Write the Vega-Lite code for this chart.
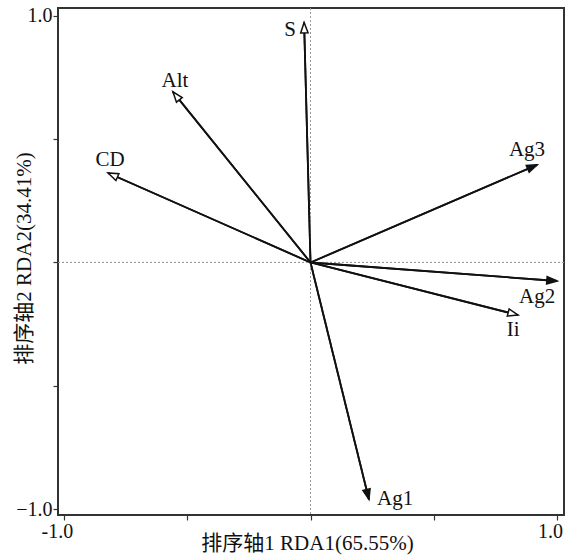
{
  "$schema": "https://vega.github.io/schema/vega-lite/v6.json",
  "width": 506,
  "height": 507,
  "autosize": "none",
  "padding": {"left": 58, "top": 8, "right": 2, "bottom": 42},
  "background": "white",
  "config": {
    "view": {"stroke": "#333333", "strokeWidth": 2},
    "font": "Liberation Serif, Noto Sans CJK SC",
    "axis": {
      "grid": false,
      "domain": false,
      "tickColor": "#333333",
      "tickSize": 5,
      "tickWidth": 1.2,
      "labelFont": "Liberation Serif",
      "labelFontSize": 20,
      "labelColor": "#111111",
      "titleFont": "Liberation Serif, Noto Sans CJK SC",
      "titleFontSize": 21,
      "titleFontWeight": "normal",
      "titleColor": "#111111"
    }
  },
  "data": {
    "values": [
      {"name": "S", "x": -0.026, "y": 0.973, "lx": -0.083, "ly": 0.943, "kind": "env"},
      {"name": "Alt", "x": -0.558, "y": 0.692, "lx": -0.55, "ly": 0.736, "kind": "env"},
      {"name": "CD", "x": -0.821, "y": 0.363, "lx": -0.813, "ly": 0.416, "kind": "env"},
      {"name": "Ii", "x": 0.842, "y": -0.213, "lx": 0.822, "ly": -0.274, "kind": "env"},
      {"name": "Ag3", "x": 0.919, "y": 0.396, "lx": 0.878, "ly": 0.456, "kind": "resp"},
      {"name": "Ag2", "x": 1.0, "y": -0.075, "lx": 0.919, "ly": -0.14, "kind": "resp"},
      {"name": "Ag1", "x": 0.237, "y": -0.961, "lx": 0.343, "ly": -0.959, "kind": "resp"}
    ]
  },
  "layer": [
    {
      "mark": {"type": "rule", "color": "#111111", "strokeWidth": 1.8},
      "encoding": {
        "x": {
          "field": "x",
          "type": "quantitative",
          "scale": {"domain": [-1.024, 1.028], "nice": false, "zero": false},
          "axis": {
            "values": [-1, -0.5, 0, 0.5, 1],
            "labelExpr": "abs(datum.value) == 1 ? (datum.value < 0 ? '-1.0' : '1.0') : ''",
            "labelPadding": 1,
            "labelOffset": -7,
            "labelFlush": false,
            "labelOverlap": false,
            "labelBound": false,
            "title": "排序轴1 RDA1(65.55%)",
            "titleX": 249,
            "titleY": 28,
            "titleAnchor": "middle",
            "titleAlign": "center",
            "titleBaseline": "middle"
          }
        },
        "y": {
          "field": "y",
          "type": "quantitative",
          "scale": {"domain": [-1.024, 1.032], "nice": false, "zero": false},
          "axis": {
            "values": [-1, -0.5, 0, 0.5, 1],
            "labelExpr": "abs(datum.value) == 1 ? (datum.value < 0 ? '−1.0' : '1.0') : ''",
            "labelPadding": 1,
            "labelFlush": false,
            "title": "排序轴2 RDA2(34.41%)",
            "titleX": -34,
            "titleY": 250,
            "titleAngle": -90,
            "titleAlign": "center",
            "titleBaseline": "middle"
          }
        },
        "x2": {"datum": 0},
        "y2": {"datum": 0}
      }
    },
    {
      "mark": {"type": "rule", "color": "#999999", "strokeWidth": 0.8, "strokeDash": [2, 2]},
      "encoding": {"x": {"datum": 0, "type": "quantitative"}}
    },
    {
      "mark": {"type": "rule", "color": "#999999", "strokeWidth": 0.8, "strokeDash": [2, 2]},
      "encoding": {"y": {"datum": 0, "type": "quantitative"}}
    },
    {
      "mark": {"type": "rule", "color": "#111111", "strokeWidth": 1.8},
      "encoding": {
        "x": {"field": "x", "type": "quantitative"},
        "y": {"field": "y", "type": "quantitative"},
        "x2": {"datum": 0},
        "y2": {"datum": 0}
      }
    },
    {
      "mark": {
        "type": "point",
        "shape": "M0,0L-0.36,1L0.36,1Z",
        "size": 420,
        "filled": true,
        "opacity": 1,
        "stroke": "#111111",
        "strokeWidth": 1.5,
        "angle": {"expr": "atan2(datum.x, datum.y) * 180 / PI"}
      },
      "encoding": {
        "x": {"field": "x", "type": "quantitative"},
        "y": {"field": "y", "type": "quantitative"},
        "fill": {
          "field": "kind",
          "type": "nominal",
          "scale": {"domain": ["env", "resp"], "range": ["white", "#111111"]},
          "legend": null
        }
      }
    },
    {
      "mark": {"type": "text", "font": "Liberation Serif", "fontSize": 21, "color": "#111111", "align": "center", "baseline": "middle"},
      "encoding": {
        "x": {"field": "lx", "type": "quantitative"},
        "y": {"field": "ly", "type": "quantitative"},
        "text": {"field": "name"}
      }
    }
  ]
}
